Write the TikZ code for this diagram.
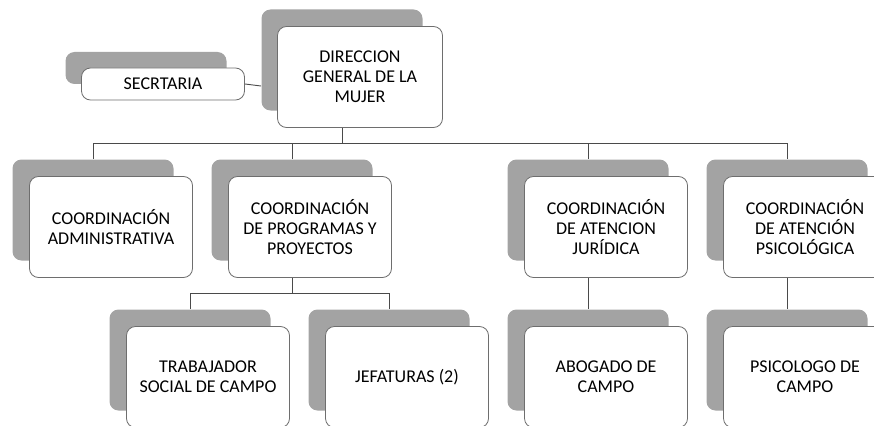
\documentclass[tikz,border=0pt]{standalone}
\usepackage{fontspec}
\setmainfont{Carlito}
\usetikzlibrary{positioning, backgrounds}
\definecolor{cshadow}{HTML}{A3A3A3}
\definecolor{cedge}{HTML}{6E6E6E}
\definecolor{cwire}{HTML}{4A4A4A}
\tikzset{
  every picture/.style={font=\fontsize{18}{20}\selectfont, line width=0.8pt},
  backcard/.style={fill=cshadow, rounded corners=9pt, minimum width=#1, minimum height=101pt, inner sep=0pt},
  backcard/.default=161pt,
  card/.style={draw=cedge, fill=white, rounded corners=9pt, align=center, minimum width=#1, minimum height=101pt, inner sep=2pt},
  card/.default=163pt,
  wire/.style={draw=cwire, line width=0.9pt},
}

\begin{document}
\begin{tikzpicture}[x=1pt, y=-1pt]
  \useasboundingbox (0,0) rectangle (874,425);
  % top
  \node[backcard] (dirS) at (342,60) {};
  \node[card=165pt] (dir) at ([shift={(18,17)}]dirS) {DIRECCION\\GENERAL DE LA\\MUJER};
  \node[backcard, minimum height=32pt] (secS) at (146,68) {};
  \node[card, minimum height=32pt] (sec) at ([shift={(17,16)}]secS) {SECRTARIA};
  % coordinations
  \node[backcard] (admS) at (93,210) {};
  \node[card] (adm) at ([shift={(18,17)}]admS) {COORDINACIÓN\\ADMINISTRATIVA};
  \node[backcard] (progS) at (292,210) {};
  \node[card] (prog) at ([shift={(18,17)}]progS) {COORDINACIÓN\\DE PROGRAMAS Y\\PROYECTOS};
  \node[backcard] (jurS) at (588,210) {};
  \node[card] (jur) at ([shift={(18,17)}]jurS) {COORDINACIÓN\\DE ATENCION\\JURÍDICA};
  \node[backcard] (psiS) at (787,210) {};
  \node[card] (psi) at ([shift={(18,17)}]psiS) {COORDINACIÓN\\DE ATENCIÓN\\PSICOLÓGICA};
  % field staff
  \node[backcard] (trabS) at (190,360) {};
  \node[card] (trab) at ([shift={(18,17)}]trabS) {TRABAJADOR\\SOCIAL DE CAMPO};
  \node[backcard] (jefS) at (389,360) {};
  \node[card] (jef) at ([shift={(18,17)}]jefS) {JEFATURAS (2)};
  \node[backcard] (abogS) at (588,360) {};
  \node[card] (abog) at ([shift={(18,17)}]abogS) {ABOGADO DE\\CAMPO};
  \node[backcard] (psicS) at (787,360) {};
  \node[card] (psic) at ([shift={(18,17)}]psicS) {PSICOLOGO DE\\CAMPO};
  % wires
  \begin{scope}[on background layer]
    \coordinate (busTop) at (0,143);
    \coordinate (busLow) at (0,293);
    \foreach \n in {admS, progS, jurS, psiS}
      \draw[wire] (dirS.south) -- (dirS.south |- busTop) -| (\n.north);
    \foreach \n in {trabS, jefS}
      \draw[wire] (progS.south) -- (progS.south |- busLow) -| (\n.north);
    \draw[wire] (jurS.south) -- (abogS.north);
    \draw[wire] (psiS.south) -- (psicS.north);
    \draw[wire] (sec.east) -- ([yshift=-26pt]dirS.west);
  \end{scope}
\end{tikzpicture}
\end{document}
